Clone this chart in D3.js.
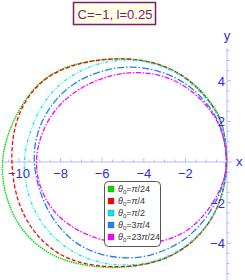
<!DOCTYPE html>
<html>
<head>
<meta charset="utf-8">
<script src="https://cdn.jsdelivr.net/npm/d3@7"></script>
<style>
  body { margin: 0; background: #fff; }
  svg { display: block; font-family: "Liberation Sans", Arial, sans-serif; }
</style>
</head>
<body>
<svg id="chart"></svg>
<script>
const outerWidth = 245;
const outerHeight = 280;

// curves, [x, y] in data units
const curveGreen = [[0.05,0],[-0.15,1.7],[-0.5,2.6],[-1.4,3.75],[-2.6,4.6],[-4.0,5.05],[-5.5,5.12],[-7.2,4.9],[-8.5,4.35],[-9.4,3.55],[-10.2,2.25],[-10.7,0.9],[-10.85,-0.3],[-10.7,-1.5],[-10.25,-2.75],[-9.55,-3.75],[-8.5,-4.6],[-7.2,-5.05],[-5.6,-5.25],[-4.0,-5.1],[-2.6,-4.65],[-1.45,-3.8],[-0.6,-2.65],[-0.15,-1.4]];
const curveRed = [[0.05,0],[-0.15,1.7],[-0.55,2.6],[-1.45,3.75],[-2.6,4.6],[-4.0,5.05],[-5.5,5.12],[-7.1,4.9],[-8.6,4.3],[-9.6,3.25],[-10.2,1.95],[-10.4,0.4],[-10.25,-1.3],[-9.8,-2.65],[-9.1,-3.7],[-8.2,-4.5],[-7.1,-5.0],[-5.6,-5.2],[-4.0,-5.1],[-2.6,-4.65],[-1.45,-3.8],[-0.6,-2.65],[-0.15,-1.4]];
const curveCyan = [[0.05,0],[-0.15,1.7],[-0.6,2.65],[-1.5,3.75],[-2.6,4.55],[-4.0,5.0],[-5.0,5.05],[-6.1,4.9],[-7.2,4.45],[-8.25,3.7],[-9.05,2.6],[-9.6,1.15],[-9.8,0],[-9.65,-1.4],[-9.15,-2.7],[-8.35,-3.75],[-7.35,-4.5],[-6.25,-4.95],[-5.2,-5.1],[-4.0,-5.05],[-2.6,-4.6],[-1.45,-3.75],[-0.6,-2.65],[-0.15,-1.4]];
const curveBlue = [[0.05,0],[-0.2,1.6],[-0.8,2.75],[-1.9,3.9],[-3.3,4.55],[-4.66,4.72],[-5.7,4.6],[-7.1,4.1],[-8.2,3.2],[-8.95,2.0],[-9.25,0.9],[-9.3,-0.1],[-9.05,-1.4],[-8.5,-2.65],[-7.8,-3.55],[-7.0,-4.2],[-6.0,-4.6],[-5.0,-4.75],[-4.0,-4.7],[-2.9,-4.35],[-1.8,-3.7],[-0.8,-2.55],[-0.2,-1.25]];
const curveMagenta = [[0.05,0],[-0.2,1.55],[-0.7,2.45],[-1.6,3.5],[-2.9,4.25],[-4.3,4.47],[-5.6,4.3],[-7.05,3.7],[-8.2,2.75],[-8.95,1.45],[-9.25,0],[-9.0,-1.35],[-8.35,-2.5],[-7.3,-3.35],[-6.0,-3.9],[-4.5,-4.1],[-3.1,-3.95],[-1.9,-3.45],[-0.95,-2.5],[-0.2,-1.2]];

const seriesNames = ["π/24", "π/4", "π/2", "3π/4", "23π/24"];
const seriesCurves = [curveGreen, curveRed, curveCyan, curveBlue, curveMagenta];
const seriesColors = ["#00dd00", "#ff0000", "#00eeee", "#1a80ff", "#ff00ff"];
const seriesDash = ["0.1,2.2", "4,2.2", "3,1.5,0.8,1.5,0.8,1.5", "7,2,1.5,2", "5,1.6,1.5,1.6"];

const xTicks = [-10, -8, -6, -4, -2];
const yTicks = [-4, -2, 2, 4];
const xMinor = d3.range(-10.5, 0.01, 0.5);
const yMinor = d3.range(-5.5, 5.51, 0.5).filter(v => v !== 0);

const svg = d3.select("#chart")
    .attr("width", outerWidth)
    .attr("height", outerHeight);

const x = d3.scaleLinear().domain([-10, 0]).range([227 - 10 * 20.8, 227]);
const y = d3.scaleLinear().domain([-5, 5]).range([162 + 5 * 20.3, 162 - 5 * 20.3]);

const axisColor = "#b4b8ff";
const labelColor = "#2b2bf0";

// axes
svg.append("line")
    .attr("x1", x(-10.8)).attr("x2", x(0.24))
    .attr("y1", y(0)).attr("y2", y(0))
    .attr("stroke", axisColor).attr("stroke-width", 1);
svg.append("line")
    .attr("x1", x(0)).attr("x2", x(0))
    .attr("y1", y(5.6)).attr("y2", y(-5.9))
    .attr("stroke", axisColor).attr("stroke-width", 1);

svg.append("g").selectAll("line")
    .data(xMinor).enter().append("line")
    .attr("x1", d => x(d)).attr("x2", d => x(d))
    .attr("y1", y(0)).attr("y2", d => y(0) - (xTicks.includes(d) ? 4 : 2.5))
    .attr("stroke", axisColor);
svg.append("g").selectAll("line")
    .data(yMinor).enter().append("line")
    .attr("x1", x(0)).attr("x2", d => x(0) + (yTicks.includes(d) ? 4 : 2.5))
    .attr("y1", d => y(d)).attr("y2", d => y(d))
    .attr("stroke", axisColor);

// curves
const line = d3.line()
    .x(d => x(d[0]))
    .y(d => y(d[1]))
    .curve(d3.curveBasisClosed);

seriesCurves.forEach((pts, i) => {
    svg.append("path")
        .datum(pts)
        .attr("fill", "none")
        .attr("stroke", seriesColors[i])
        .attr("stroke-width", i === 0 ? 1.6 : 1.3)
        .attr("stroke-linecap", i === 0 ? "round" : "butt")
        .attr("stroke-dasharray", seriesDash[i])
        .attr("d", line);
});

// tick labels
svg.append("g").selectAll("text")
    .data(xTicks).enter().append("text")
    .attr("x", d => x(d))
    .attr("y", 178)
    .attr("text-anchor", "middle")
    .attr("font-size", 13)
    .attr("fill", labelColor)
    .text(d => String(d).replace("-", "\u2212"));

svg.append("g").selectAll("text")
    .data(yTicks).enter().append("text")
    .attr("x", 225)
    .attr("y", d => y(d) + 5)
    .attr("text-anchor", "end")
    .attr("font-size", 13)
    .attr("fill", labelColor)
    .text(d => String(d).replace("-", "\u2212"));

svg.append("text")
    .attr("x", 236).attr("y", 166)
    .attr("font-size", 13).attr("fill", labelColor)
    .text("x");
svg.append("text")
    .attr("x", 227).attr("y", 40)
    .attr("text-anchor", "middle")
    .attr("font-size", 13).attr("fill", labelColor)
    .text("y");

// title box
svg.append("rect")
    .attr("x", 73.5).attr("y", 2.5)
    .attr("width", 82).attr("height", 22)
    .attr("fill", "#ffffe4")
    .attr("stroke", "#7a1a7a")
    .attr("stroke-width", 1.5);
svg.append("text")
    .attr("x", 115).attr("y", 19)
    .attr("text-anchor", "middle")
    .attr("font-size", 13)
    .attr("fill", "#7a1a7a")
    .text("C=\u22121, l=0.25");

// legend
const legend = svg.append("g");
legend.append("rect")
    .attr("x", 104.5).attr("y", 181.5)
    .attr("width", 56).attr("height", 65)
    .attr("rx", 4)
    .attr("fill", "#fff")
    .attr("stroke", "#555")
    .attr("stroke-width", 1);

seriesNames.forEach((name, i) => {
    const cy = 189 + i * 12;
    legend.append("rect")
        .attr("x", 108).attr("y", cy - 3)
        .attr("width", 6).attr("height", 6)
        .attr("fill", seriesColors[i])
        .attr("stroke", "#666")
        .attr("stroke-width", 0.4);
    const t = legend.append("text")
        .attr("x", 118).attr("y", cy + 3)
        .attr("font-size", 9)
        .attr("fill", "#333");
    const parts = name.split("π");
    t.append("tspan").attr("font-style", "italic").text("θ");
    t.append("tspan").attr("font-size", 6).attr("dy", 2).text("0");
    t.append("tspan").attr("dy", -2).text("=" + parts[0]);
    t.append("tspan").attr("font-style", "italic").text("π");
    t.append("tspan").text(parts[1]);
});
</script>
</body>
</html>
